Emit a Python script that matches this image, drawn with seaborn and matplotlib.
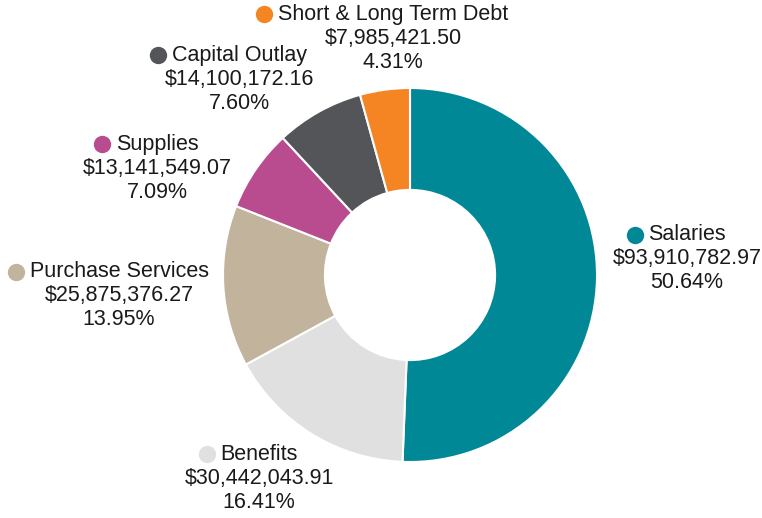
import matplotlib
matplotlib.use("Agg")
import matplotlib.pyplot as plt
import seaborn as sns

categories = ["Salaries", "Benefits", "Purchase Services", "Supplies",
              "Capital Outlay", "Short & Long Term Debt"]
amounts = [93910782.97, 30442043.91, 25875376.27, 13141549.07,
           14100172.16, 7985421.50]
colors = ["#008896", "#dfe0df", "#c2b39d", "#b94c8f", "#545558", "#f58522"]

# label anchor (centre of the amount line), in pie-radius units
label_pos = [(1.481, 0.086), (-0.807, -1.086), (-1.556, -0.112),
             (-1.353, 0.572), (-0.912, 1.048), (-0.091, 1.267)]

sns.set_theme(style="white")
plt.rcParams["font.family"] = ["Liberation Sans", "DejaVu Sans"]

fig = plt.figure(figsize=(7.62, 5.18), dpi=100)
ax = fig.add_axes([0, 0, 1, 1])

ax.pie(amounts, colors=colors, startangle=90, counterclock=False,
       radius=1, wedgeprops=dict(width=1 - 0.455, edgecolor="white", linewidth=1.5))

ax.set_xlim(-410 / 187, 352 / 187)
ax.set_ylim(-243 / 187, 275 / 187)
ax.set_aspect("equal")
ax.axis("off")

total = sum(amounts)
fs = 15.5
line = 24 * 0.72  # line spacing in points
name_texts = []
for name, amt, col, (lx, ly) in zip(categories, amounts, colors, label_pos):
    ax.annotate(f"${amt:,.2f}", (lx, ly), ha="center", va="center",
                fontsize=fs, color="#1a1a1a")
    ax.annotate(f"{amt / total * 100:.2f}%", (lx, ly), xytext=(0, -line),
                textcoords="offset points", ha="center", va="center",
                fontsize=fs, color="#1a1a1a")
    t = ax.annotate(name, (lx, ly), xytext=(0, line),
                    textcoords="offset points", ha="center", va="center",
                    fontsize=fs, color="#1a1a1a")
    name_texts.append((t, col))

# colored dot to the left of each category name
fig.canvas.draw()
renderer = fig.canvas.get_renderer()
inv = ax.transData.inverted()
for t, col in name_texts:
    bb = t.get_window_extent(renderer)
    mx = bb.x0 - 5 - 8.5
    my = (bb.y0 + bb.y1) / 2
    dx, dy = inv.transform((mx, my))
    ax.plot(dx, dy, "o", ms=12.5, color=col, markeredgewidth=0)

fig.savefig("out.png", dpi=100)
